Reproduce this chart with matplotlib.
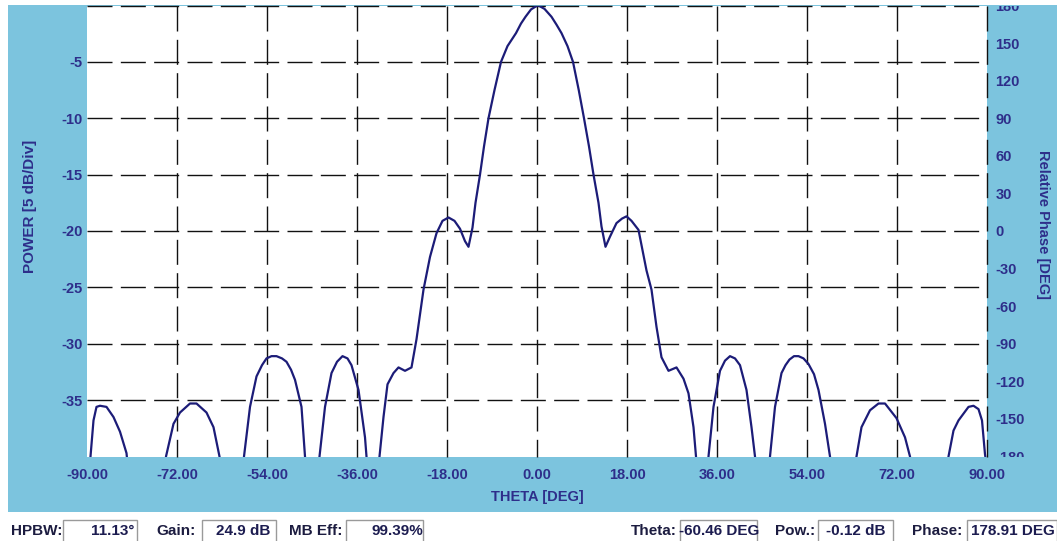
import matplotlib
matplotlib.use("Agg")
import matplotlib.pyplot as plt
from matplotlib.patches import Rectangle
from matplotlib.transforms import Bbox, TransformedBbox

plt.rcParams['font.family'] = ['Liberation Sans', 'DejaVu Sans']
plt.rcParams['lines.scale_dashes'] = False

# antenna pattern (theta in deg, power in dB)
theta = [-89.5, -89.3, -88.7, -88.1, -87.4, -86.1, -84.7, -83.4, -82.1, -81.8, -78.0,
         -74.4, -74.2, -72.7, -71.4, -69.4, -68.1, -66.1, -64.7, -63.5, -63.3, -61.0,
         -58.8, -58.6, -57.4, -56.1, -55.0, -54.1, -53.1, -52.1, -51.0, -50.1, -49.2, -48.4,
         -47.1, -46.4, -46.2, -45.0,
         -43.7, -43.5, -42.4, -41.1, -40.0, -38.9, -37.9, -37.1, -35.7, -34.4, -34.1, -34.0, -33.0,
         -31.8, -31.5, -30.7, -29.9, -28.7, -27.7, -26.4, -25.1, -24.1, -22.7, -21.4,
         -20.1, -18.9, -17.7, -16.5, -15.4, -14.4, -13.7, -12.9, -12.3, -11.4, -10.6,
         -9.7, -8.5, -7.2, -5.9, -4.2, -3.2, -2.3, -1.2, 0.0, 0.3,
         1.5, 2.9, 3.9, 4.9, 6.1, 7.2, 8.35, 9.4, 10.4, 11.3, 12.3, 12.9, 13.7, 14.6, 15.9,
         17.0, 17.9, 18.9, 20.3, 21.9, 22.9, 23.9, 24.9, 26.3, 27.9, 29.3, 30.3, 31.3,
         31.8, 31.9, 33.0, 34.2, 34.3, 35.3, 36.6, 37.6, 38.6, 39.6, 40.6, 41.9, 42.9, 43.6,
         43.8, 45.0,
         46.4, 46.6, 47.6, 48.9, 49.7, 50.5, 51.4, 52.3, 53.3, 54.3, 55.4, 56.3, 57.6, 58.6,
         58.8, 61.0,
         63.7, 63.9, 64.9, 66.6, 68.3, 69.6, 71.9, 73.6, 74.6, 74.8, 78.0,
         82.1, 82.3, 83.3, 84.3, 86.3, 87.3, 88.3, 89.0, 89.6, 90.0]
power = [-41, -40, -36.8, -35.6, -35.5, -35.6, -36.5, -37.8, -39.7, -41, -50,
         -41, -40, -37.1, -36.1, -35.3, -35.3, -36.1, -37.4, -40, -41, -50,
         -41, -40, -35.6, -32.9, -31.9, -31.3, -31.1, -31.1, -31.3, -31.6, -32.3, -33.2,
         -35.6, -40, -41, -50,
         -41, -40, -35.6, -32.6, -31.6, -31.1, -31.3, -31.9, -34.1, -38.3, -40, -41, -50,
         -41, -40, -36.5, -33.6, -32.6, -32.1, -32.4, -32.1, -29.6, -25.2, -22.3,
         -20.2, -19.1, -18.8, -19.1, -19.8, -20.9, -21.4, -19.7, -17.5, -15.0, -12.5,
         -10.0, -7.5, -5.0, -3.6, -2.45, -1.6, -1.0, -0.35, -0.02, 0.0,
         -0.3, -1.0, -1.7, -2.45, -3.6, -5.0, -7.5, -10.0, -12.5, -15.0, -17.5, -19.6, -21.4, -20.5, -19.3,
         -18.9, -18.7, -19.1, -19.9, -23.5, -25.2, -28.5, -31.2, -32.4, -32.1, -33.1, -34.4, -37.4,
         -40, -41, -50, -41, -40, -35.6, -32.4, -31.5, -31.1, -31.3, -31.9, -34.1, -37.4, -40,
         -41, -50,
         -41, -40, -35.6, -32.6, -31.9, -31.4, -31.1, -31.1, -31.3, -31.8, -32.7, -34.1, -37.1, -40,
         -41, -50,
         -41, -40, -37.4, -35.9, -35.3, -35.3, -36.6, -38.3, -40, -41, -50,
         -41, -40, -37.7, -36.8, -35.6, -35.5, -35.8, -36.8, -39.8, -41]

theta_ticks = [-90, -72, -54, -36, -18, 0, 18, 36, 54, 72, 90]
power_ticks = [-5, -10, -15, -20, -25, -30, -35]
phase_ticks = [180, 150, 120, 90, 60, 30, 0, -30, -60, -90, -120, -150, -180]

status_names = ["HPBW:", "Gain:", "MB Eff:", "Theta:", "Pow.:", "Phase:"]
status_values = ["11.13°", "24.9 dB", "99.39%", "-60.46 DEG", "-0.12 dB", "178.91 DEG"]
# pixel layout of the status strip: label right edge, box left, box right, value centre
status_layout = [(62, 63, 137, 113), (196, 202, 276, 243), (342, 346, 423, 397),
                 (677, 680, 757, 719), (815, 818, 893, 856), (962, 967, 1057, 1013)]

BLUE = '#7cc4de'
NAVY = '#2e2e8a'
CURVE = '#1c1c78'

W, H = 1057, 541
fig = plt.figure(figsize=(W / 100, H / 100), dpi=100)
fig.patch.set_facecolor('white')

def fx(px):
    return px / W

def fy(py):
    return 1 - py / H

# blue frame behind the plot
fig.patches.append(Rectangle((fx(8), fy(512)), 1 - fx(8), fy(5) - fy(512),
                             transform=fig.transFigure, facecolor=BLUE,
                             edgecolor='none', zorder=-5))

top, bottom = 5.5, 456.5
ax = fig.add_axes([fx(87), fy(bottom), fx(987) - fx(87), fy(top) - fy(bottom)])
ax.set_facecolor('white')
ax.set_xlim(-90, 90)
ax.set_ylim(-40, 0)
for s in ax.spines.values():
    s.set_visible(False)

dash = (0, (18, 6))
ax.hlines([0] + power_ticks, -90, 90, colors='#111111', linestyles=dash,
          linewidth=1.0, clip_on=False, zorder=1)
ax.vlines(theta_ticks[1:], 0, -40, colors='#111111', linestyles=dash,
          linewidth=1.0, clip_on=False, zorder=1)

ax.plot(theta, power, color=CURVE, linewidth=1.6, zorder=3)

ax.set_xticks(theta_ticks)
ax.set_xticklabels([f"{t:.2f}" for t in theta_ticks])
ax.set_yticks(power_ticks)
ax.set_yticklabels([str(p) for p in power_ticks])
ax.tick_params(axis='both', length=0, labelsize=10.5, labelcolor=NAVY)
ax.tick_params(axis='x', pad=8)
ax.tick_params(axis='y', pad=3)
for lbl in ax.get_xticklabels() + ax.get_yticklabels():
    lbl.set_fontweight('bold')

ax.set_xlabel("THETA [DEG]", fontsize=10.5, fontweight='bold', color=NAVY, labelpad=6)
fig.text(fx(30), fy(206), "POWER [5 dB/Div]", rotation=90, ha='center', va='center',
         fontsize=11, fontweight='bold', color=NAVY)

ax2 = ax.twinx()
ax2.set_ylim(-180, 180)
ax2.set_yticks(phase_ticks)
ax2.set_yticklabels([str(p) for p in phase_ticks])
for s in ax2.spines.values():
    s.set_visible(False)
ax2.tick_params(axis='y', length=0, pad=6, labelsize=10.5, labelcolor=NAVY)
clip = TransformedBbox(Bbox([[0, fy(bottom)], [1, fy(top)]]), fig.transFigure)
for lbl in ax2.get_yticklabels():
    lbl.set_fontweight('bold')
    lbl.set_clip_on(True)
    lbl.set_clip_box(clip)
fig.text(fx(1043), fy(224), "Relative Phase [DEG]", rotation=-90, ha='center', va='center',
         fontsize=10.5, fontweight='bold', color=NAVY)

# status strip
for name, value, (lab_r, box_l, box_r, val_c) in zip(status_names, status_values, status_layout):
    fig.text(fx(lab_r), fy(531), name, ha='right', va='center', fontsize=11,
             fontweight='bold', color='#1c1c40')
    fig.patches.append(Rectangle((fx(box_l), fy(545)), fx(box_r) - fx(box_l), fy(520) - fy(545),
                                 transform=fig.transFigure, facecolor='white',
                                 edgecolor='#9a9a9a', linewidth=1.0))
    fig.text(fx(val_c), fy(531), value, ha='center', va='center', fontsize=11,
             fontweight='bold', color='#1c1c50')

fig.savefig("out.png", dpi=100)
